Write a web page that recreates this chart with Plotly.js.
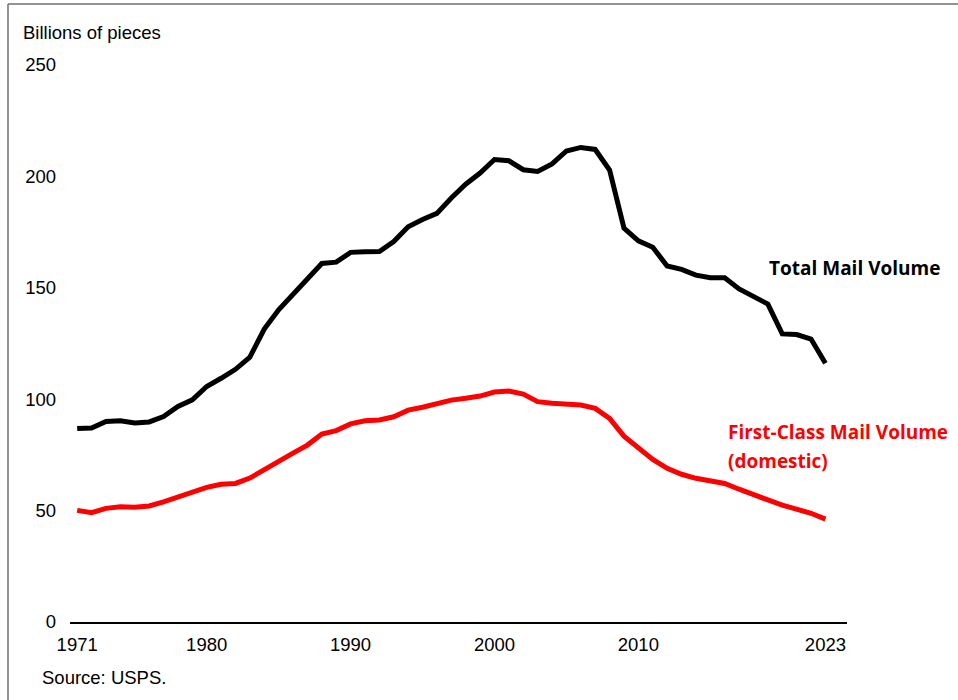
<!DOCTYPE html>
<html>
<head>
<meta charset="utf-8">
<script src="https://cdn.plot.ly/plotly-3.0.1.min.js"></script>
<style>
  html, body { margin: 0; padding: 0; background: #ffffff; }
  #chart { width: 958px; height: 700px; }
</style>
</head>
<body>
<div id="chart"></div>
<script>
// U.S. Postal Service mail volume, billions of pieces, 1971-2023
const years = [];
for (let y = 1971; y <= 2023; y++) years.push(y);

const totalMail = [
  86.8, 87.1, 90.0, 90.3, 89.3, 89.8, 92.2, 96.7, 99.7, 105.7,
  109.4, 113.4, 118.9, 131.5, 140.1, 146.8, 153.6, 160.9, 161.5, 165.9,
  166.2, 166.3, 170.8, 177.4, 180.7, 183.4, 190.3, 196.5, 201.5, 207.6,
  207.0, 203.0, 202.2, 205.6, 211.4, 213.0, 212.1, 202.9, 176.8, 171.1,
  168.2, 159.8, 158.3, 155.7, 154.5, 154.5, 149.5, 146.3, 142.7, 129.3,
  129.0, 127.0, 116.1
];

const firstClassDomestic = [
  50.1, 49.1, 51.0, 51.7, 51.5, 52.1, 53.9, 56.0, 58.2, 60.4,
  61.8, 62.2, 64.6, 68.5, 72.3, 75.8, 79.4, 84.4, 85.9, 88.9,
  90.3, 90.7, 92.1, 95.1, 96.4, 98.2, 99.6, 100.4, 101.4, 103.2,
  103.7, 102.3, 98.9, 98.2, 97.8, 97.4, 95.9, 91.4, 83.4, 78.0,
  73.0, 69.0, 66.3, 64.5, 63.4, 62.2, 59.6, 57.0, 54.8, 52.5,
  50.6, 48.8, 46.2
];

const xTickVals = [1971, 1980, 1990, 2000, 2010, 2023];
const yTickVals = [0, 50, 100, 150, 200, 250];

const tickFont = { family: "Liberation Sans, Arial, sans-serif", size: 18.5, color: "#000000" };
const labelFont = { family: "Open Sans, sans-serif", size: 19, color: "#000000", weight: 700 };
const redLabelFont = Object.assign({}, labelFont, { color: "#ff0000" });

const traces = [
  {
    x: years, y: totalMail, type: "scatter", mode: "lines",
    line: { color: "#000000", width: 5 }, hoverinfo: "x+y", name: "Total Mail Volume"
  },
  {
    x: years, y: firstClassDomestic, type: "scatter", mode: "lines",
    line: { color: "#ff0000", width: 5 }, hoverinfo: "x+y", name: "First-Class Mail Volume (domestic)"
  }
];

const layout = {
  width: 958, height: 700,
  margin: { l: 70, r: 111, t: 65, b: 78 },
  paper_bgcolor: "#ffffff", plot_bgcolor: "#ffffff",
  showlegend: false,
  xaxis: {
    range: [1970.5, 2024.5],
    tickvals: xTickVals, ticktext: xTickVals.map(String),
    ticks: "", showgrid: false, zeroline: false,
    showline: true, linecolor: "#000000", linewidth: 1.5,
    tickfont: tickFont, ticklabelstandoff: 5
  },
  yaxis: {
    range: [0, 250],
    tickvals: yTickVals, ticktext: yTickVals.map(String),
    ticks: "", showgrid: false, zeroline: false, showline: false,
    tickfont: tickFont, ticklabelstandoff: 13
  },
  annotations: [
    { xref: "paper", yref: "paper", x: -0.0635, y: 1.0575, xanchor: "left", yanchor: "middle",
      text: "Billions of pieces", showarrow: false, font: tickFont },
    { xref: "paper", yref: "paper", x: -0.038, y: -0.1005, xanchor: "left", yanchor: "middle",
      text: "Source: USPS.", showarrow: false, font: tickFont },
    { x: 2018.95, y: 158.9, xanchor: "left", yanchor: "middle",
      text: "Total Mail Volume", showarrow: false, font: labelFont },
    { x: 2016.1, y: 85.3, xanchor: "left", yanchor: "middle",
      text: "First-Class Mail Volume", showarrow: false, font: redLabelFont },
    { x: 2016.1, y: 72.3, xanchor: "left", yanchor: "middle",
      text: "(domestic)", showarrow: false, font: redLabelFont }
  ],
  shapes: [
    // frame around the figure (left and top edges)
    { type: "line", xref: "paper", yref: "paper", x0: -0.0798, x1: -0.0798, y0: -0.2, y1: 1.1095,
      line: { color: "#707070", width: 1.5 } },
    { type: "line", xref: "paper", yref: "paper", x0: -0.0798, x1: 1.2, y0: 1.1095, y1: 1.1095,
      line: { color: "#707070", width: 1.5 } }
  ]
};

Plotly.newPlot("chart", traces, layout, { staticPlot: true, displayModeBar: false });
</script>
</body>
</html>
